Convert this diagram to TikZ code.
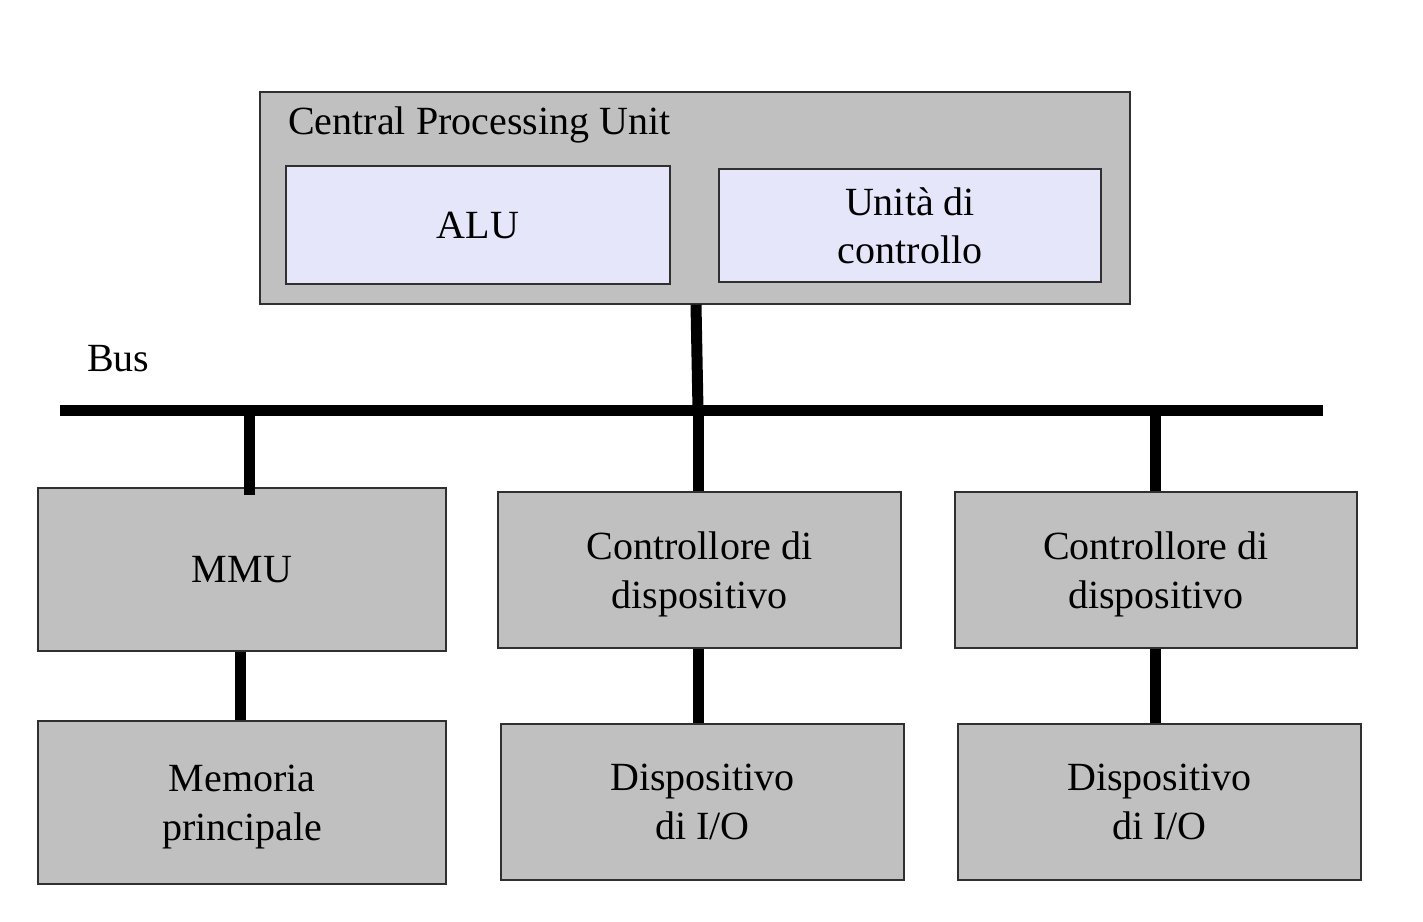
\documentclass[tikz,border=0pt]{standalone}
\usepackage{fontspec}
\setmainfont{Liberation Serif}
\definecolor{boxgray}{HTML}{C0C0C0}
\definecolor{lav}{HTML}{E6E6FA}
\definecolor{edge}{HTML}{303030}
\begin{document}
\begin{tikzpicture}[x=0.75pt,y=-0.75pt,
  pxsize/.style 2 args={minimum width=#1*0.75pt, minimum height=#2*0.75pt},
  graybox/.style={draw=edge, line width=1pt, fill=boxgray, inner sep=0pt, align=center,
     font=\fontsize{30}{36.5}\selectfont},
  lavbox/.style={graybox, fill=lav},
  lbl/.style={inner sep=0pt, font=\fontsize{30}{36.5}\selectfont},
  busline/.style={line width=8.25pt, line cap=butt},
]
\useasboundingbox[fill=white] (0,0) rectangle (1423,921);
% CPU
\node[graybox, pxsize={870}{212}] (cpu) at (695,198) {};
\node[lbl, anchor=base west] (cpulabel) at (288,134) {Central Processing Unit};
\node[lavbox, pxsize={384}{118}] (alu) at (478,225) {ALU};
\node[lavbox, pxsize={382}{113}, text depth=0pt] (uc) at (910,225.5) {Unità di\\controllo};
% Bus
\node[lbl, anchor=base west] (buslabel) at (87,371) {Bus};
\coordinate (busL) at (60,410);
\coordinate (busR) at (1323,410);
\coordinate (bm) at (249.5,410);
\coordinate (b1) at (698,410);
\coordinate (b2) at (1155,410);
% lower boxes
\node[graybox, pxsize={408}{163}] (mmu) at (242,569.5) {MMU};
\node[graybox, pxsize={403}{156}, text depth=0pt] (c1) at (699.5,570) {Controllore di\\dispositivo};
\node[graybox, pxsize={402}{156}, text depth=0pt] (c2) at (1156,570) {Controllore di\\dispositivo};
\node[graybox, pxsize={408}{163}, text depth=0pt] (mem) at (242,802.5) {Memoria\\principale};
\node[graybox, pxsize={403}{156}, text depth=0pt] (d1) at (702.5,802) {Dispositivo\\di I/O};
\node[graybox, pxsize={403}{156}, text depth=0pt] (d2) at (1159.5,802) {Dispositivo\\di I/O};
% connectors
\draw[busline] (busL) -- (busR);
\draw[busline] ([xshift=-1.5pt]b1 |- cpu.south) -- (b1);
\draw[busline] (bm) -- ([yshift=-6pt]bm |- mmu.north);
\draw[busline] (b1) -- (b1 |- c1.north);
\draw[busline] (b2) -- (b2 |- c2.north);
\draw[busline] ([xshift=-1pt]mmu.south) -- ([xshift=-1pt]mmu.south |- mem.north);
\draw[busline] (b1 |- c1.south) -- (b1 |- d1.north);
\draw[busline] (b2 |- c2.south) -- (b2 |- d2.north);
\end{tikzpicture}
\end{document}
